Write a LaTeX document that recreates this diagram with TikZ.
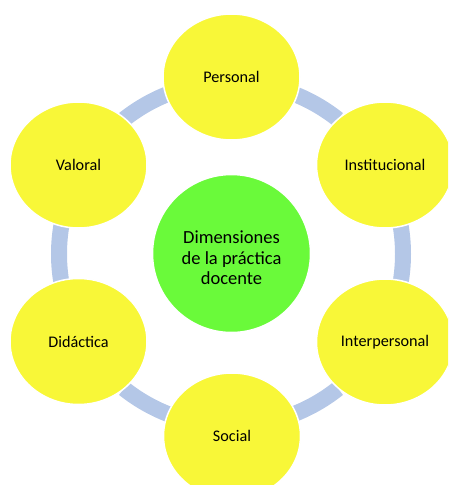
\documentclass[tikz,border=0pt]{standalone}
\usepackage{fontspec}
\setmainfont{Carlito}
\usetikzlibrary{shapes.geometric}
\definecolor{yel}{RGB}{248,247,56}
\definecolor{grn}{RGB}{106,250,58}
\definecolor{ringc}{RGB}{180,199,231}
\begin{document}
\begin{tikzpicture}[x=1pt,y=-1pt,
 dim/.style={ellipse, fill=yel, draw=white, line width=1.5pt, minimum width=137pt, minimum height=126pt, inner sep=0pt, font=\fontsize{16.2}{19}\selectfont, text=black},
 core/.style={circle, fill=grn, draw=white, line width=1.5pt, minimum size=158pt, inner sep=0pt},
 coretext/.style={align=center, inner sep=0pt, font=\fontsize{18.5}{20.5}\selectfont, text=black},
 seg/.style={draw=ringc, line width=16pt}]
\useasboundingbox (0,0) rectangle (448,485);
\clip (0,0) rectangle (448,485);
\coordinate (rc) at (231,254);
\foreach \a/\w in {0/10,60/8.5,120/8.5,180/10,240/8.5,300/8.5}{
  \draw[seg] ([shift={(\a-\w:172)}]rc) arc[start angle=\a-\w, end angle=\a+\w, radius=172];
}
\node[core] (c) at (231.5,253.5) {};
\node[coretext] (ct) at (231.5,258) {Dimensiones\\de la práctica\\docente};
\node[dim] (p) at (231.5,77) {Personal};
\node[dim] (i) at (385,165) {Institucional};
\node[dim] (ip) at (385,342) {Interpersonal};
\node[dim] (s) at (232,436) {Social};
\node[dim] (d) at (78.5,341.5) {Didáctica};
\node[dim] (v) at (78.5,165) {Valoral};
\end{tikzpicture}
\end{document}
